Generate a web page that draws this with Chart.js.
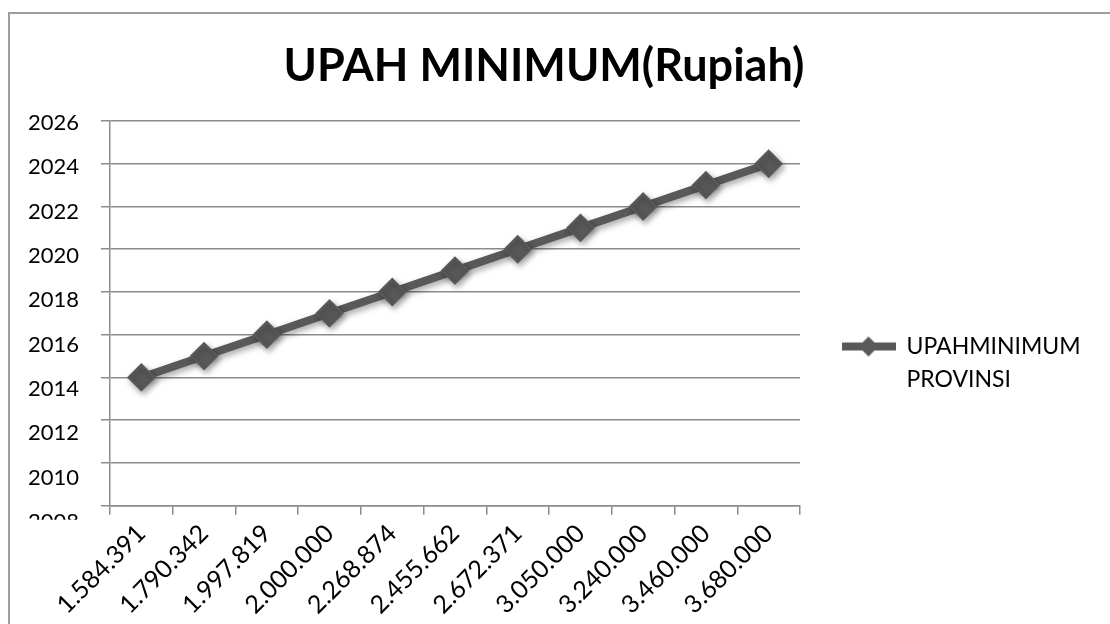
<!DOCTYPE html>
<html>
<head>
<meta charset="utf-8">
<script src="https://cdn.jsdelivr.net/npm/chart.js@4/dist/chart.umd.min.js"></script>
<style>
  html, body { margin: 0; padding: 0; background: #fff; }
  #frame { position: absolute; left: 8px; top: 12px; width: 1102px; height: 612px;
           border-top: 2px solid #9c9c9c; border-left: 2px solid #9c9c9c; box-sizing: border-box; }
  #wrap { position: absolute; left: 0; top: 0; width: 1100px; height: 610px; }
</style>
</head>
<body>
<div id="frame"><div id="wrap"><canvas id="c"></canvas></div></div>
<script>
const chartTitle = 'UPAH MINIMUM(Rupiah)';
const seriesName = ['UPAHMINIMUM', 'PROVINSI'];
const wageLabels = ['1.584.391', '1.790.342', '1.997.819', '2.000.000', '2.268.874', '2.455.662',
                    '2.672.371', '3.050.000', '3.240.000', '3.460.000', '3.680.000'];
const yearValues = [2014, 2015, 2016, 2017, 2018, 2019, 2020, 2021, 2022, 2023, 2024];
const yMin = 2008, yMax = 2026, yStep = 2;

const lineColor = '#595959';
const gridColor = '#8c8c8c';
const fontFamily = 'Lato, "Liberation Sans", sans-serif';

// legend icon: thick line with a diamond in the middle
const icon = document.createElement('canvas');
icon.width = 54; icon.height = 26;
(function () {
  const g = icon.getContext('2d');
  g.fillStyle = lineColor;
  g.fillRect(0, 9, 54, 8);
  g.beginPath();
  g.moveTo(27, 3); g.lineTo(37, 13); g.lineTo(27, 23); g.lineTo(17, 13); g.closePath();
  g.fill();
})();

const shadowPlugin = {
  id: 'shadow',
  beforeDatasetsDraw(chart) {
    const ctx = chart.ctx;
    ctx.save();
    ctx.shadowColor = 'rgba(0,0,0,0.35)';
    ctx.shadowBlur = 6;
    ctx.shadowOffsetX = 2;
    ctx.shadowOffsetY = 3;
  },
  afterDatasetsDraw(chart) { chart.ctx.restore(); }
};

// legend text may run past the legend box; y labels are cut just below the axis (as in the original)
const layoutTweaks = {
  id: 'layoutTweaks',
  afterLayout(chart) {
    if (chart.legend) { chart.legend.right = chart.width; chart.legend.width = chart.width - chart.legend.left; }
    const ys = chart.scales.y;
    if (ys && !ys._clipWrapped) {
      const orig = ys.drawLabels;
      ys.drawLabels = function (area) {
        const ctx = this.ctx;
        ctx.save();
        ctx.beginPath();
        ctx.rect(0, 0, chart.width, chart.chartArea.bottom + 14);
        ctx.clip();
        orig.call(this, area);
        ctx.restore();
      };
      ys._clipWrapped = true;
    }
  }
};

new Chart(document.getElementById('c'), {
  type: 'line',
  data: {
    labels: wageLabels,
    datasets: [{
      label: seriesName,
      data: yearValues,
      borderColor: lineColor,
      backgroundColor: lineColor,
      borderWidth: 8,
      tension: 0,
      pointStyle: 'rectRot',
      pointRadius: 13,
      pointHoverRadius: 13,
      pointBorderWidth: 2,
      pointBackgroundColor: lineColor,
      pointBorderColor: lineColor
    }]
  },
  options: {
    responsive: true,
    maintainAspectRatio: false,
    animation: false,
    events: [],
    layout: { padding: { left: 0, right: 32, top: 0, bottom: 0 } },
    plugins: {
      title: {
        display: true,
        text: chartTitle,
        color: '#000',
        font: { family: fontFamily, size: 45, weight: 'bold', lineHeight: 1.2 },
        padding: { top: 25, bottom: 28 }
      },
      legend: {
        display: true,
        position: 'right',
        align: 'start',
        title: { display: true, text: ' ', font: { size: 10, lineHeight: 1 }, padding: { top: 269, bottom: 0 } },
        labels: {
          usePointStyle: true,
          pointStyle: icon,
          pointStyleWidth: 53,
          boxHeight: 23,
          padding: 42,
          color: '#000',
          font: { family: fontFamily, size: 23, lineHeight: 1.45 }
        }
      },
      tooltip: { enabled: false }
    },
    scales: {
      x: {
        type: 'category',
        offset: true,
        afterFit(scale) { scale.paddingLeft = 0; scale.paddingRight = 310; },
        grid: { offset: true, drawOnChartArea: false, drawTicks: true, tickLength: 9, color: gridColor, lineWidth: 1.5 },
        border: { display: true, color: gridColor, width: 1.5 },
        ticks: { minRotation: 45, maxRotation: 45, padding: 4, color: '#000', autoSkip: false,
                 font: { family: fontFamily, size: 25 } }
      },
      y: {
        min: yMin,
        max: yMax,
        afterFit(scale) { scale.width = 100; },
        grid: { color: gridColor, lineWidth: 1.5, tickLength: 9 },
        border: { display: true, color: gridColor, width: 1.5 },
        ticks: {
          stepSize: yStep, padding: 22, color: '#000', autoSkip: false,
          // labels sit a little lower than their gridlines, drifting further down towards the bottom
          callback: (v) => ['', String(v)],
          font: (c) => ({ family: fontFamily, size: 22,
                          lineHeight: (4 + (yMax - (c.tick ? c.tick.value : yMax)) * 1.6) + 'px' })
        }
      }
    }
  },
  plugins: [shadowPlugin, layoutTweaks]
});
</script>
</body>
</html>
